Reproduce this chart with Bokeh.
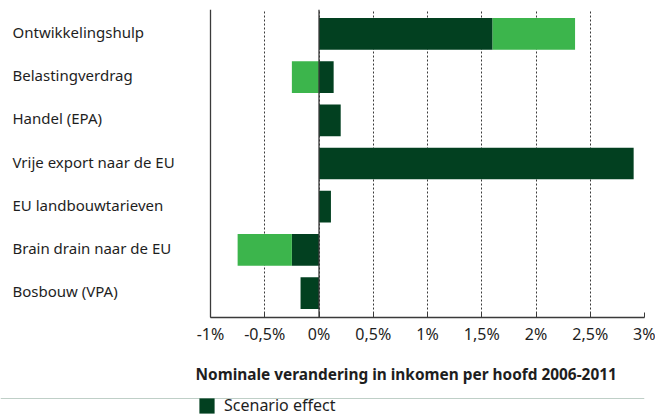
from bokeh.plotting import figure
from bokeh.layouts import column
from bokeh.models import (ColumnDataSource, Range1d, FactorRange, Span, LabelSet,
                          Title, Legend, LegendItem, FixedTicker)
from bokeh.core.properties import value
from bokeh.embed import file_html
from bokeh.resources import INLINE

categories = ["Ontwikkelingshulp", "Belastingverdrag", "Handel (EPA)",
              "Vrije export naar de EU", "EU landbouwtarieven",
              "Brain drain naar de EU", "Bosbouw (VPA)"]
scenario_effect = [1.60, 0.135, 0.20, 2.90, 0.11, -0.25, -0.17]
extra_effect = [0.76, -0.25, 0.0, 0.0, 0.0, -0.50, 0.0]
tick_values = [-1, -0.5, 0, 0.5, 1, 1.5, 2, 2.5, 3]
tick_labels = ["-1%", "-0,5%", "0%", "0,5%", "1%", "1,5%", "2%", "2,5%", "3%"]
x_title = "Nominale verandering in inkomen per hoofd 2006-2011"
legend_label = "Scenario effect"

DARK = "#024020"
GREEN = "#3cb54c"
AXIS = "#3a3a3a"
TEXT = "#1e1e1e"
FONT = "Noto Sans"

# layout geometry (pixels)
W, H = 655, 416
MAIN_H = 398                          # main chart; legend strip below it
AX_LEFT, AX_RIGHT = 210, 644          # x of -1% and 3%
AX_TOP, AX_BOTTOM = 9, 317
LABEL_X = 12                          # left edge of category labels
X_MIN, X_MAX = tick_values[0], tick_values[-1]
px_per_unit = (AX_RIGHT - AX_LEFT) / (X_MAX - X_MIN)
view_start = X_MIN - AX_LEFT / px_per_unit
label_x = X_MIN - (AX_LEFT - LABEL_X) / px_per_unit

green_start = [d if d * g > 0 else 0.0 for d, g in zip(scenario_effect, extra_effect)]
green_end = [s + g for s, g in zip(green_start, extra_effect)]

src = ColumnDataSource(dict(
    cat=categories, dark=scenario_effect, zero=[0.0] * len(categories),
    gs=green_start, ge=green_end, lx=[label_x] * len(categories),
))

p = figure(width=W, height=MAIN_H, output_backend="svg", toolbar_location=None,
           x_range=Range1d(view_start, X_MAX),
           y_range=FactorRange(factors=list(reversed(categories)),
                               range_padding=0.067, range_padding_units="absolute"),
           y_axis_location=None,
           min_border_left=0, min_border_right=W - AX_RIGHT, min_border_top=AX_TOP,
           min_border_bottom=MAIN_H - AX_BOTTOM)
p.outline_line_color = None
p.background_fill_color = "white"
p.border_fill_color = "white"

p.hbar(y="cat", left="zero", right="dark", height=0.735, source=src,
       fill_color=DARK, line_color=None)
p.hbar(y="cat", left="gs", right="ge", height=0.735, source=src,
       fill_color=GREEN, line_color=None)

# grid
p.ygrid.visible = False
p.xgrid.ticker = FixedTicker(ticks=tick_values)
p.xgrid.grid_line_color = AXIS
p.xgrid.grid_line_dash = "2 2"
p.xgrid.grid_line_width = 1
p.add_layout(Span(location=0, dimension="height", line_color=AXIS, line_width=1.3))
p.add_layout(Span(location=X_MIN, dimension="height", line_color=AXIS, line_width=1.3))

# x axis
xa = p.xaxis[0]
xa.bounds = (X_MIN, X_MAX)
xa.ticker = FixedTicker(ticks=tick_values)
xa.major_label_overrides = {v: l for v, l in zip(tick_values, tick_labels)}
xa.axis_line_color = AXIS
xa.axis_line_width = 1.3
xa.major_tick_in = 5
xa.major_tick_out = 0
xa.major_tick_line_color = AXIS
xa.minor_tick_line_color = None
xa.major_label_standoff = 5
xa.major_label_text_font = FONT
xa.major_label_text_font_size = "16px"
xa.major_label_text_color = TEXT

# category labels, left-aligned
p.add_layout(LabelSet(x="lx", y="cat", text="cat", source=src, y_offset=2,
                      text_align="left", text_baseline="middle",
                      text_font=value(FONT), text_font_size="15px",
                      text_color=TEXT))

# axis title
p.add_layout(Title(text=x_title, align="left", offset=195, standoff=28,
                   text_font=FONT, text_font_size="15.4px", text_font_style="bold",
                   text_color=TEXT), "below")

# legend strip (the legend's renderer holds one swatch placed outside the view)
lg = figure(width=W, height=H - MAIN_H, output_backend="svg", toolbar_location=None,
            x_range=Range1d(0, 1), y_range=Range1d(0, 1),
            x_axis_location=None, y_axis_location=None,
            min_border_left=0, min_border_right=0, min_border_top=0,
            min_border_bottom=0)
lg.outline_line_color = None
lg.background_fill_color = "white"
lg.border_fill_color = "white"
lg.xgrid.visible = False
lg.ygrid.visible = False
r_leg = lg.hbar(y=[10], left=[0], right=[1], height=1, fill_color=DARK,
                line_color=None)
legend = Legend(items=[LegendItem(label=legend_label, renderers=[r_leg])],
                location=(197, 0), orientation="vertical",
                glyph_width=19, glyph_height=19, label_standoff=8,
                padding=0, margin=0, border_line_color=None,
                background_fill_alpha=0, label_text_font=FONT,
                label_text_font_size="16px", label_text_color=TEXT)
lg.add_layout(legend, "center")

layout = column(p, lg, spacing=0)
open("out.html", "w").write(file_html(layout, INLINE))
